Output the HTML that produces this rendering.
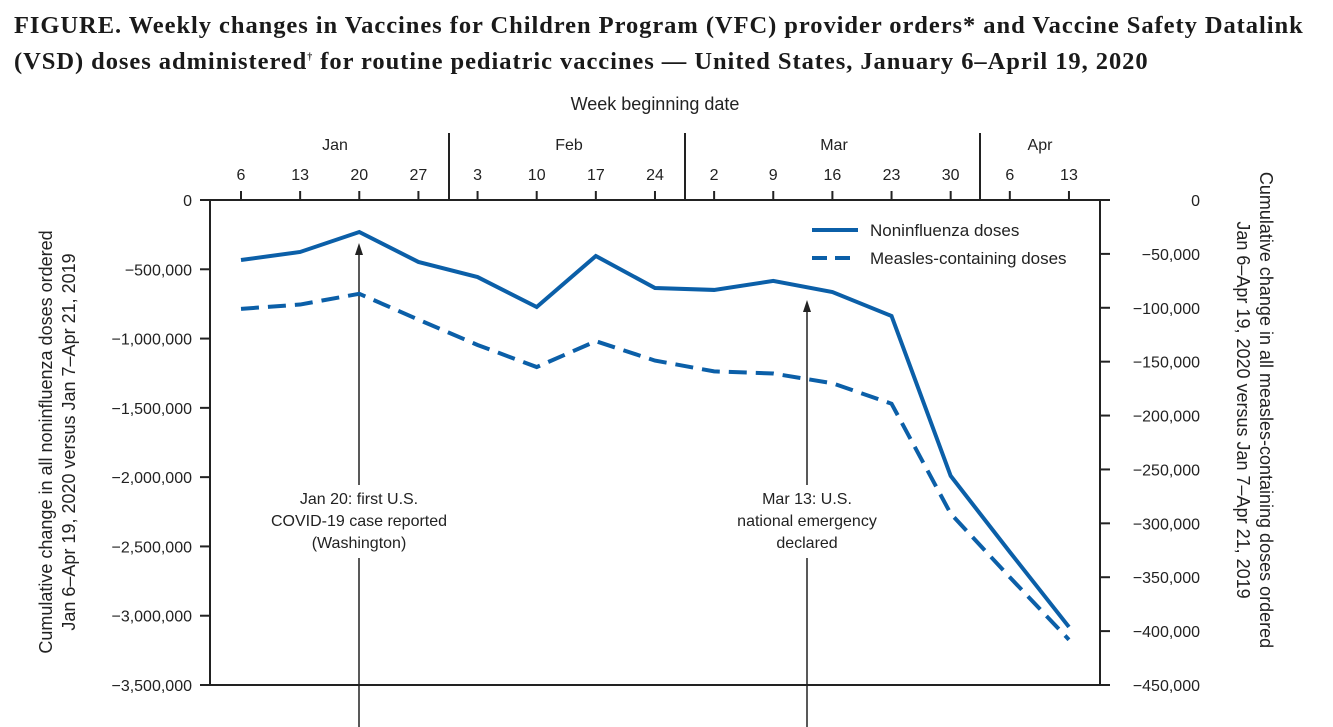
<!DOCTYPE html>
<html><head><meta charset="utf-8"><style>
body{margin:0;background:#fff;width:1333px;height:727px;overflow:hidden;font-family:"Liberation Sans",sans-serif}
.title{position:absolute;left:14px;top:10px;font-family:"Liberation Serif",serif;font-weight:bold;font-size:24.5px;letter-spacing:0.95px;line-height:32px;color:#1a1a1a;white-space:nowrap}
</style></head><body>
<div class="title">FIGURE. Weekly changes in Vaccines for Children Program (VFC) provider orders* and Vaccine Safety Datalink<br>(VSD) doses administered<sup style="font-size:10px">†</sup> for routine pediatric vaccines — United States, January 6–April 19, 2020</div>
<svg id="c" width="1333" height="727" style="position:absolute;left:0;top:0"></svg>
<script>
const weeks=["6","13","20","27","3","10","17","24","2","9","16","23","30","6","13"];
const noninfluenza=[-433000,-375000,-231000,-447000,-556000,-772000,-404000,-635000,-649000,-584000,-664000,-837000,-1991000,-2540000,-3081000];
const measles=[-101000,-97000,-87000,-111000,-134500,-155000,-131000,-149000,-159000,-161000,-170000,-189000,-291000,-350000,-408000];
const leftTicks=[0,-500000,-1000000,-1500000,-2000000,-2500000,-3000000,-3500000];
const rightTicks=[0,-50000,-100000,-150000,-200000,-250000,-300000,-350000,-400000,-450000];
const months=["Jan","Feb","Mar","Apr"];
const svg=document.getElementById('c');const NS="http://www.w3.org/2000/svg";
function el(t,a,txt){const e=document.createElementNS(NS,t);for(const k in a)e.setAttribute(k,a[k]);if(txt!=null)e.textContent=txt;svg.appendChild(e);return e;}
const L=210,R=1100,T=200,B=685;
const x=i=>241+i*59.14;
const yL=v=>T+(-v)/3500000*(B-T);
const yR=v=>T+(-v)/450000*(B-T);
const fmt=v=>v===0?"0":"−"+Math.abs(v).toLocaleString("en-US");
let a=el('line',{x1:200,y1:T,x2:R,y2:T,stroke:'#222','stroke-width':2});
a=el('line',{x1:L,y1:T,x2:L,y2:B,stroke:'#222','stroke-width':2});
a=el('line',{x1:R,y1:T,x2:R,y2:B,stroke:'#222','stroke-width':2});
a=el('line',{x1:200,y1:B,x2:1110,y2:B,stroke:'#222','stroke-width':2});
leftTicks.forEach(v=>{const y=yL(v);el('line',{x1:L-10,y1:y,x2:L,y2:y,stroke:'#222','stroke-width':2});
 const t=el('text',{x:L-18,y:y+6,'text-anchor':'end','font-size':16,fill:'#222'},fmt(v));
 });
rightTicks.forEach(v=>{const y=yR(v);el('line',{x1:R,y1:y,x2:R+10,y2:y,stroke:'#222','stroke-width':2});
 const t=el('text',{x:1200,y:y+6,'text-anchor':'end','font-size':16,fill:'#222'},fmt(v));
 });
weeks.forEach((w,i)=>{el('line',{x1:x(i),y1:T-9,x2:x(i),y2:T,stroke:'#222','stroke-width':2});
 const t=el('text',{x:x(i),y:180,'text-anchor':'middle','font-size':16,fill:'#222'},w);
 });
[449,685,980].forEach(d=>el('line',{x1:d,y1:133,x2:d,y2:T,stroke:'#222','stroke-width':2}));
[335,569,834,1040].forEach((m,i)=>{const t=el('text',{x:m,y:150,'text-anchor':'middle','font-size':16,fill:'#222'},months[i]);
 });
let t=el('text',{x:655,y:110,'text-anchor':'middle','font-size':18,fill:'#222'},'Week beginning date');
t=el('text',{transform:'translate(52,442) rotate(-90)','text-anchor':'middle','font-size':18,fill:'#222'});
t.innerHTML='<tspan x="0" dy="0">Cumulative change in all noninfluenza doses ordered</tspan><tspan x="0" dy="23">Jan 6–Apr 19, 2020 versus Jan 7–Apr 21, 2019</tspan>';
t=el('text',{transform:'translate(1260,410) rotate(90)','text-anchor':'middle','font-size':18,fill:'#222'});
t.innerHTML='<tspan x="0" dy="0">Cumulative change in all measles-containing doses ordered</tspan><tspan x="0" dy="23">Jan 6–Apr 19, 2020 versus Jan 7–Apr 21, 2019</tspan>';
function arrow(ax,ytop,name){const g=el('g',{});
 [[ytop+8,485],[558,727]].forEach(s=>{const l=document.createElementNS(NS,'line');l.setAttribute('x1',ax);l.setAttribute('x2',ax);l.setAttribute('y1',s[0]);l.setAttribute('y2',s[1]);l.setAttribute('stroke','#222');l.setAttribute('stroke-width',1.5);g.appendChild(l);});
 const p=document.createElementNS(NS,'path');p.setAttribute('d',`M${ax-4},${ytop+12} L${ax},${ytop} L${ax+4},${ytop+12}Z`);p.setAttribute('fill','#222');g.appendChild(p);}
arrow(359,243,'jan20-arrow');arrow(807,300,'mar13-arrow');
function note(cx,lines,name){const tt=el('text',{'text-anchor':'middle','font-size':16,fill:'#222'});
 tt.innerHTML=lines.map((s,i)=>`<tspan x="${cx}" y="${504+i*22}">${s}</tspan>`).join('');}
note(359,['Jan 20: first U.S.','COVID-19 case reported','(Washington)'],'jan20-annotation');
note(807,['Mar 13: U.S.','national emergency','declared'],'mar13-annotation');
let p=el('polyline',{points:noninfluenza.map((v,i)=>x(i)+','+yL(v)).join(' '),fill:'none',stroke:'#0b5fa8','stroke-width':4});

p=el('polyline',{points:measles.map((v,i)=>x(i)+','+yR(v)).join(' '),fill:'none',stroke:'#0b5fa8','stroke-width':4,'stroke-dasharray':'18,9'});

const lg=el('g',{});
el('line',{x1:812,y1:230,x2:858,y2:230,stroke:'#0b5fa8','stroke-width':4});
el('line',{x1:812,y1:258,x2:858,y2:258,stroke:'#0b5fa8','stroke-width':4,'stroke-dasharray':'15,8'});
t=el('text',{x:870,y:236,'font-size':17,fill:'#222'},'Noninfluenza doses');
t=el('text',{x:870,y:264,'font-size':17,fill:'#222'},'Measles-containing doses');
</script>
</body></html>
